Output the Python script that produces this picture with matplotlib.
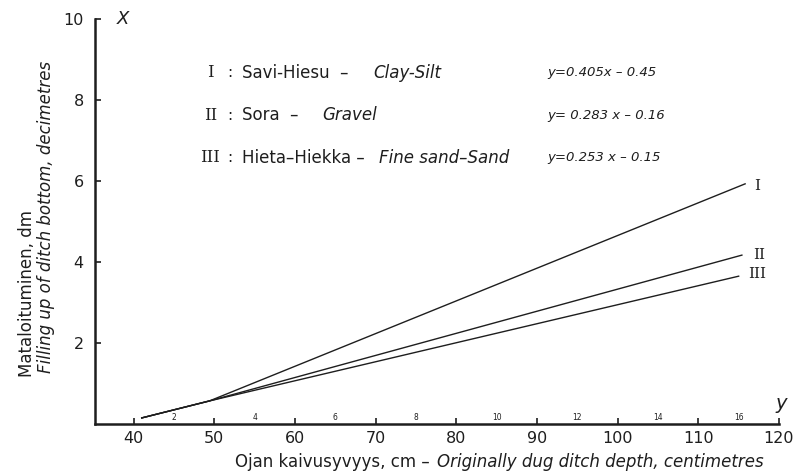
import matplotlib.pyplot as plt

# depth (cm) vs filling up (dm)
depth_I = [41.0, 49.4, 115.8]
fill_I = [0.15, 0.57, 5.93]
depth_II = [41.0, 49.4, 115.4]
fill_II = [0.15, 0.57, 4.17]
depth_III = [41.0, 49.4, 115.0]
fill_III = [0.15, 0.57, 3.65]

xticks = [40, 50, 60, 70, 80, 90, 100, 110, 120]
yticks = [2, 4, 6, 8, 10]
# small secondary scale along the x axis
sec_pos = [45, 55, 65, 75, 85, 95, 105, 115]
sec_lab = ["2", "4", "6", "8", "10", "12", "14", "16"]

names_fi = ["Savi-Hiesu  \u2013", "Sora  \u2013", "Hieta\u2013Hiekka \u2013"]
names_en = ["Clay-Silt", "Gravel", "Fine sand\u2013Sand"]
equations = ["y=0.405x \u2013 0.45", "y= 0.283 x \u2013 0.16", "y=0.253 x \u2013 0.15"]
romans = ["I", "II", "III"]

ink = "#1e1e1e"
plt.rcParams['font.family'] = ['DejaVu Sans']

fig = plt.figure(figsize=(7.94, 4.72), dpi=100)
ax = fig.add_axes([0.1196, 0.1017, 0.8615, 0.858])

for xs, ys in [(depth_I, fill_I), (depth_II, fill_II), (depth_III, fill_III)]:
    ax.plot(xs, ys, color=ink, lw=1.0)

ax.set_xlim(35.2, 120)
ax.set_ylim(0, 10)
ax.set_xticks(xticks)
ax.set_yticks(yticks)
ax.tick_params(direction='in', length=4, width=1.2, colors=ink,
               labelsize=11.5)
ax.tick_params(axis='x', pad=5)
ax.tick_params(axis='y', pad=8)
for s in ['top', 'right']:
    ax.spines[s].set_visible(False)
for s in ['left', 'bottom']:
    ax.spines[s].set_linewidth(1.8)
    ax.spines[s].set_color(ink)

for p, l in zip(sec_pos, sec_lab):
    ax.text(p, 0.17, l, fontsize=5.5, ha='center', va='center', color=ink)

# legend rows
rows_y = [8.67, 7.63, 6.57]
en_x = [69.7, 63.4, 70.4]
for i in range(3):
    ax.text(49.5, rows_y[i], romans[i], family='DejaVu Serif', fontsize=12,
            ha='center', va='center', color=ink)
    ax.text(51.9, rows_y[i], ":", fontsize=11, ha='center', va='center', color=ink)
    ax.text(53.4, rows_y[i], names_fi[i], fontsize=12, va='center', color=ink)
    ax.text(en_x[i], rows_y[i], names_en[i], fontsize=12, style='italic',
            va='center', color=ink)
    ax.text(91.3, rows_y[i], equations[i], fontsize=9.5, style='italic',
            va='center', color=ink)

# labels at line ends
ax.text(117.3, 5.88, "I", family='DejaVu Serif', fontsize=11, ha='center', va='center', color=ink)
ax.text(117.5, 4.17, "II", family='DejaVu Serif', fontsize=11, ha='center', va='center', color=ink)
ax.text(117.3, 3.70, "III", family='DejaVu Serif', fontsize=11, ha='center', va='center', color=ink)

ax.text(37.9, 10.0, "X", fontsize=13, style='italic', va='center', color=ink)
ax.text(120.3, 0.5, "y", fontsize=14, style='italic', ha='center', va='center', color=ink)

# axis titles
fig.text(430 / 794, 1 - 462 / 472, "Ojan kaivusyvyys, cm \u2013", fontsize=12,
         ha='right', va='center', color=ink)
fig.text(437 / 794, 1 - 462 / 472, "Originally dug ditch depth, centimetres",
         fontsize=12, style='italic', ha='left', va='center', color=ink)
fig.text(27 / 794, 1 - 377 / 472, "Mataloituminen, dm", fontsize=12,
         rotation=90, ha='center', va='bottom', color=ink)
fig.text(46 / 794, 1 - 373 / 472, "Filling up of ditch bottom, decimetres",
         fontsize=12, style='italic', rotation=90, ha='center', va='bottom', color=ink)

fig.savefig("out.png", dpi=100, facecolor='white')
